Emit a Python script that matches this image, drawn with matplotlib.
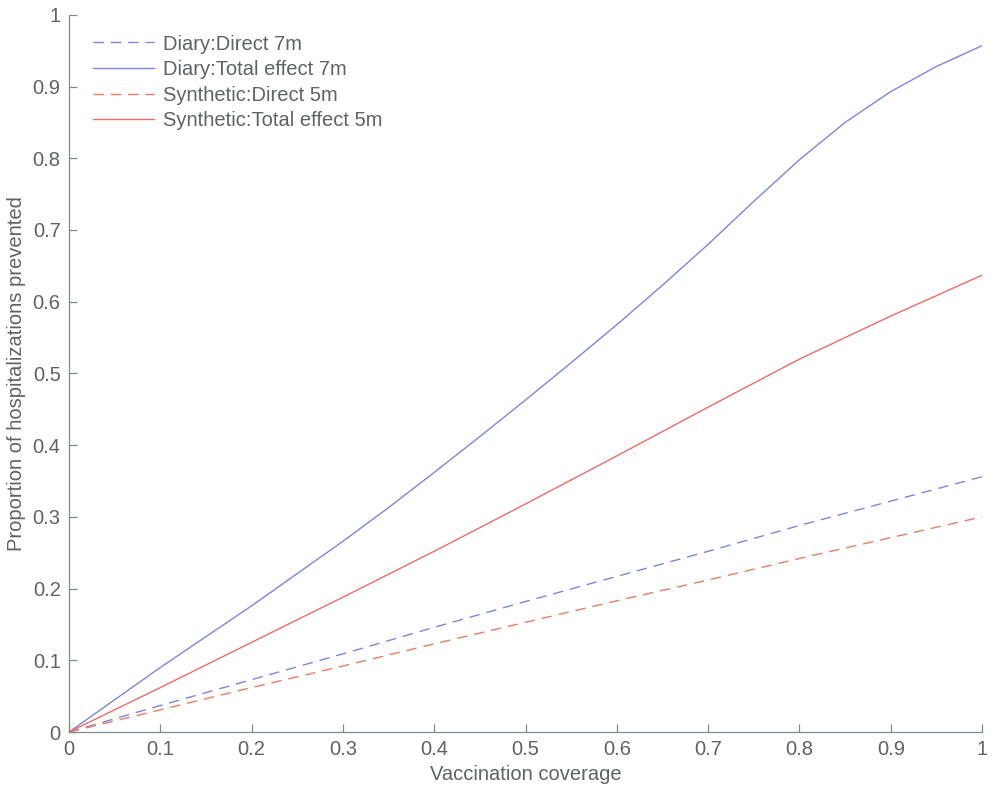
import matplotlib
matplotlib.use("Agg")
import matplotlib.pyplot as plt

# vaccination coverage (x) and proportion of hospitalizations prevented (y)
coverage = [0.0, 0.1, 0.2, 0.3, 0.4, 0.5, 0.6, 0.7, 0.8, 0.9, 1.0]
diary_direct = [0.0, 0.037, 0.073, 0.109, 0.146, 0.182, 0.217, 0.252, 0.288, 0.322, 0.356]
synth_direct = [0.0, 0.031, 0.062, 0.092, 0.123, 0.153, 0.183, 0.212, 0.242, 0.271, 0.300]
synth_total = [0.0, 0.062, 0.125, 0.188, 0.252, 0.318, 0.385, 0.453, 0.520, 0.580, 0.637]

# the diary total curve bends near the top, so it is read at finer steps
coverage_fine = [0.0, 0.05, 0.1, 0.15, 0.2, 0.25, 0.3, 0.35, 0.4, 0.45, 0.5,
                 0.55, 0.6, 0.65, 0.7, 0.75, 0.8, 0.85, 0.9, 0.95, 1.0]
diary_total = [0.0, 0.045, 0.090, 0.133, 0.176, 0.221, 0.266, 0.313, 0.362, 0.412, 0.463,
               0.515, 0.568, 0.623, 0.680, 0.740, 0.798, 0.850, 0.893, 0.928, 0.957]

x_ticks = [0, 0.1, 0.2, 0.3, 0.4, 0.5, 0.6, 0.7, 0.8, 0.9, 1]
x_tick_labels = ["0", "0.1", "0.2", "0.3", "0.4", "0.5", "0.6", "0.7", "0.8", "0.9", "1"]
y_ticks = x_ticks
y_tick_labels = x_tick_labels

BLUE = "#7d84e2"
RED = "#f06a68"
RED_DASH = "#ef7a62"
GREY = "#5f6266"
AXIS = "#7d8a96"

plt.rcParams["font.family"] = ["Liberation Sans", "DejaVu Sans"]
plt.rcParams["font.size"] = 14.5

fig = plt.figure(figsize=(9.93, 7.89), dpi=100)
ax = fig.add_axes([0.0695, 0.0722, 0.9195, 0.909])

ax.plot(coverage, diary_direct, color=BLUE, lw=1.0, dashes=(7.5, 5), label="Diary:Direct 7m")
ax.plot(coverage_fine, diary_total, color=BLUE, lw=1.0, label="Diary:Total effect 7m")
ax.plot(coverage, synth_direct, color=RED_DASH, lw=1.0, dashes=(7.5, 5), label="Synthetic:Direct 5m")
ax.plot(coverage, synth_total, color=RED, lw=1.0, label="Synthetic:Total effect 5m")

ax.set_xlim(0, 1)
ax.set_ylim(0, 1)
ax.set_xticks(x_ticks)
ax.set_xticklabels(x_tick_labels)
ax.set_yticks(y_ticks)
ax.set_yticklabels(y_tick_labels)
ax.tick_params(direction="in", length=6, width=0.9, colors=AXIS, labelcolor=GREY, pad=6)

for side in ("top", "right"):
    ax.spines[side].set_visible(False)
for side in ("left", "bottom"):
    ax.spines[side].set_color(AXIS)
    ax.spines[side].set_linewidth(0.9)

ax.set_xlabel("Vaccination coverage", color=GREY, labelpad=4)
ax.set_ylabel("Proportion of hospitalizations prevented", color=GREY, labelpad=5)

leg = ax.legend(loc="upper left", bbox_to_anchor=(0.009, 0.995), frameon=False,
                handlelength=3.0, handletextpad=0.45, labelspacing=0.33,
                borderaxespad=0.4)
for t in leg.get_texts():
    t.set_color(GREY)

fig.savefig("out.png", dpi=100)
